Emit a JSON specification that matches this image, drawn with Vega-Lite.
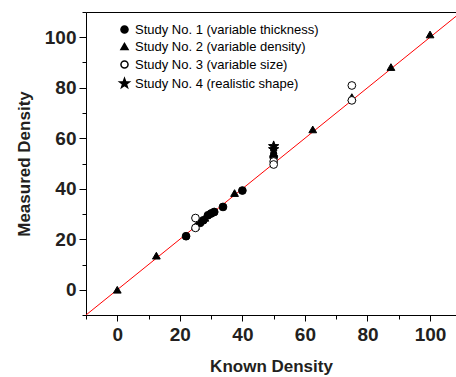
{
  "$schema": "https://vega.github.io/schema/vega-lite/v6.json",
  "autosize": "none",
  "width": 370,
  "height": 303,
  "padding": {"left": 86, "top": 12, "right": 0, "bottom": 62},
  "config": {
    "view": {"stroke": null},
    "font": "Liberation Sans",
    "axis": {
      "domainColor": "black",
      "domainWidth": 1,
      "tickColor": "black",
      "grid": false,
      "labelFont": "Liberation Sans",
      "labelFontWeight": "bold",
      "labelFontSize": 19,
      "labelColor": "#231f20",
      "titleFont": "Liberation Sans",
      "titleFontWeight": "bold",
      "titleFontSize": 17,
      "titleColor": "#231f20"
    }
  },
  "resolve": {"axis": {"x": "independent", "y": "independent"}},
  "datasets": {
    "pts": [
      {"known": 22, "measured": 21.2, "study": "Study No. 1 (variable thickness)"},
      {"known": 26.5, "measured": 26.5, "study": "Study No. 1 (variable thickness)"},
      {"known": 27.5, "measured": 27.5, "study": "Study No. 1 (variable thickness)"},
      {"known": 29, "measured": 29.5, "study": "Study No. 1 (variable thickness)"},
      {"known": 30, "measured": 30.2, "study": "Study No. 1 (variable thickness)"},
      {"known": 31, "measured": 30.8, "study": "Study No. 1 (variable thickness)"},
      {"known": 33.8, "measured": 32.8, "study": "Study No. 1 (variable thickness)"},
      {"known": 40, "measured": 39.3, "study": "Study No. 1 (variable thickness)"},
      {"known": 50, "measured": 52.5, "study": "Study No. 1 (variable thickness)"},
      {"known": 0, "measured": 0, "study": "Study No. 2 (variable density)"},
      {"known": 12.5, "measured": 13.5, "study": "Study No. 2 (variable density)"},
      {"known": 25, "measured": 25.2, "study": "Study No. 2 (variable density)"},
      {"known": 28, "measured": 28.5, "study": "Study No. 2 (variable density)"},
      {"known": 37.5, "measured": 38.3, "study": "Study No. 2 (variable density)"},
      {"known": 50, "measured": 54.2, "study": "Study No. 2 (variable density)"},
      {"known": 62.5, "measured": 63.5, "study": "Study No. 2 (variable density)"},
      {"known": 75, "measured": 76.3, "study": "Study No. 2 (variable density)"},
      {"known": 87.5, "measured": 88.2, "study": "Study No. 2 (variable density)"},
      {"known": 100, "measured": 101.1, "study": "Study No. 2 (variable density)"},
      {"known": 25, "measured": 28.4, "study": "Study No. 3 (variable size)"},
      {"known": 25, "measured": 24.5, "study": "Study No. 3 (variable size)"},
      {"known": 50, "measured": 50.8, "study": "Study No. 3 (variable size)"},
      {"known": 50, "measured": 49.6, "study": "Study No. 3 (variable size)"},
      {"known": 75, "measured": 80.9, "study": "Study No. 3 (variable size)"},
      {"known": 75, "measured": 75, "study": "Study No. 3 (variable size)"},
      {"known": 50, "measured": 56.8, "study": "Study No. 4 (realistic shape)"},
      {"known": 50, "measured": 55.6, "study": "Study No. 4 (realistic shape)"}
    ],
    "line": [
      {"known": -10, "measured": -10},
      {"known": 110, "measured": 110}
    ]
  },
  "layer": [
    {
      "data": {"name": "line"},
      "mark": {"type": "point", "opacity": 0},
      "encoding": {
        "x": {
          "field": "known", "type": "quantitative",
          "scale": {"domain": [-10, 108.3], "nice": false, "zero": false},
          "axis": {
            "orient": "top",
            "title": null,
            "labels": false,
            "ticks": false,
            "domain": true
          }
        }
      }
    },
    {
      "data": {"name": "line"},
      "mark": {"type": "line", "color": "#ff0000", "strokeWidth": 1, "clip": true},
      "encoding": {
        "x": {
          "field": "known", "type": "quantitative",
          "scale": {"domain": [-10, 108.3], "nice": false, "zero": false},
          "axis": {
            "orient": "bottom",
            "title": null,
            "values": [-10, 10, 30, 50, 70, 90],
            "labels": false,
            "domain": false,
            "tickSize": 4
          }
        },
        "y": {
          "field": "measured", "type": "quantitative",
          "scale": {"domain": [-10, 110], "nice": false, "zero": false},
          "axis": {
            "orient": "left",
            "title": null,
            "values": [-10, 10, 30, 50, 70, 90, 110],
            "labels": false,
            "domain": false,
            "tickSize": 4
          }
        }
      }
    },
    {
      "data": {"name": "pts"},
      "mark": {"type": "point", "filled": false, "stroke": "black", "strokeWidth": 1, "size": 60, "opacity": 1},
      "encoding": {
        "x": {
          "field": "known", "type": "quantitative",
          "scale": {"domain": [-10, 108.3], "nice": false, "zero": false},
          "axis": {
            "orient": "bottom",
            "title": "Known Density",
            "values": [0, 20, 40, 60, 80, 100],
            "tickSize": 6,
            "labelPadding": 4,
            "titlePadding": 14,
            "labelFlush": false
          }
        },
        "y": {
          "field": "measured", "type": "quantitative",
          "scale": {"domain": [-10, 110], "nice": false, "zero": false},
          "axis": {
            "orient": "left",
            "title": "Measured Density",
            "values": [0, 20, 40, 60, 80, 100],
            "tickSize": 7,
            "labelPadding": 3,
            "titlePadding": 11,
            "labelFlush": false
          }
        },
        "shape": {
          "field": "study", "type": "nominal",
          "scale": {
            "domain": ["Study No. 1 (variable thickness)", "Study No. 2 (variable density)", "Study No. 3 (variable size)", "Study No. 4 (realistic shape)"],
            "range": ["circle", "triangle-up", "circle", "M0,-1.4L0.34,-0.46L1.33,-0.43L0.53,0.17L0.83,1.13L0,0.56L-0.83,1.13L-0.53,0.17L-1.33,-0.43L-0.34,-0.46Z"]
          },
          "legend": {
            "title": null,
            "orient": "none",
            "legendX": 32,
            "legendY": 11,
            "padding": 0,
            "labelFont": "Liberation Sans",
            "labelFontSize": 13,
            "labelColor": "black",
            "labelLimit": 300,
            "symbolSize": 50,
            "rowPadding": 3,
            "labelOffset": 4,
            "encode": {"symbols": {"update": {"stroke": {"value": "black"}, "strokeWidth": {"value": 1}}}}
          }
        },
        "fill": {
          "field": "study", "type": "nominal",
          "scale": {
            "domain": ["Study No. 1 (variable thickness)", "Study No. 2 (variable density)", "Study No. 3 (variable size)", "Study No. 4 (realistic shape)"],
            "range": ["black", "black", "white", "black"]
          },
          "legend": {
            "title": null,
            "orient": "none",
            "legendX": 32,
            "legendY": 11,
            "padding": 0,
            "labelFont": "Liberation Sans",
            "labelFontSize": 13,
            "labelColor": "black",
            "labelLimit": 300,
            "symbolSize": 50,
            "rowPadding": 3,
            "labelOffset": 4,
            "encode": {"symbols": {"update": {"stroke": {"value": "black"}, "strokeWidth": {"value": 1}}}}
          }
        }
      }
    }
  ]
}
